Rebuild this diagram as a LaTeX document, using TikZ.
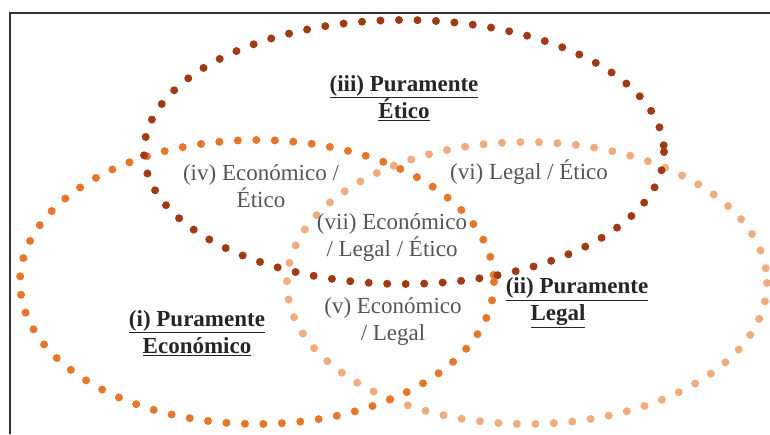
\documentclass[tikz,border=0pt]{standalone}
\usepackage{fontspec}
\setmainfont{Liberation Serif}
\usepackage{tikz}

\definecolor{econ}{HTML}{E6762A}
\definecolor{legal}{HTML}{F0AC7E}
\definecolor{etico}{HTML}{9E3A14}
\definecolor{txt}{HTML}{555555}

\begin{document}
\begin{tikzpicture}[x=1pt,y=-1pt,
    ring/.style={line width=8pt,line cap=round,dash pattern=on 0pt off 18.5pt},
    lbl/.style={text=txt,align=center,inner sep=0pt,font=\fontsize{23}{27}\selectfont},
    ttl/.style={lbl,text=black!85,font=\fontsize{23}{27}\selectfont\bfseries}]
            \useasboundingbox (0,0) rectangle (770,434);
            \fill[white] (0,0) rectangle (770,434);
            \draw[line width=2pt,black!80] (770,13) -- (10,13) -- (10,434);

            % the three sets
            \draw[ring,legal] (527,283) ellipse [x radius=240,y radius=141];
            \draw[ring,econ] (257,282) ellipse [x radius=237,y radius=142];
            \draw[ring,etico] (404,152) ellipse [x radius=260,y radius=132];

            % labels
            \node[ttl] (eti) at (404,98) {\underline{(iii) Puramente}\\\underline{Ético}};
            \node[lbl] (ecoeti) at (261,186) {(iv) Económico /\\Ético};
            \node[lbl] (legeti) at (529,172) {(vi) Legal / Ético};
            \node[lbl] (todos) at (392,237) {(vii) Económico\\/ Legal / Ético};
            \node[lbl] (ecoleg) at (393,321) {(v) Económico\\/ Legal};
            \node[ttl] (eco) at (197,333) {\underline{(i) Puramente}\\\underline{Económico}};
            \node[ttl] (leg) at (577,303) {\underline{(ii) Puramente}\\\underline{Legal}\hspace*{38pt}};
\end{tikzpicture}
\end{document}
